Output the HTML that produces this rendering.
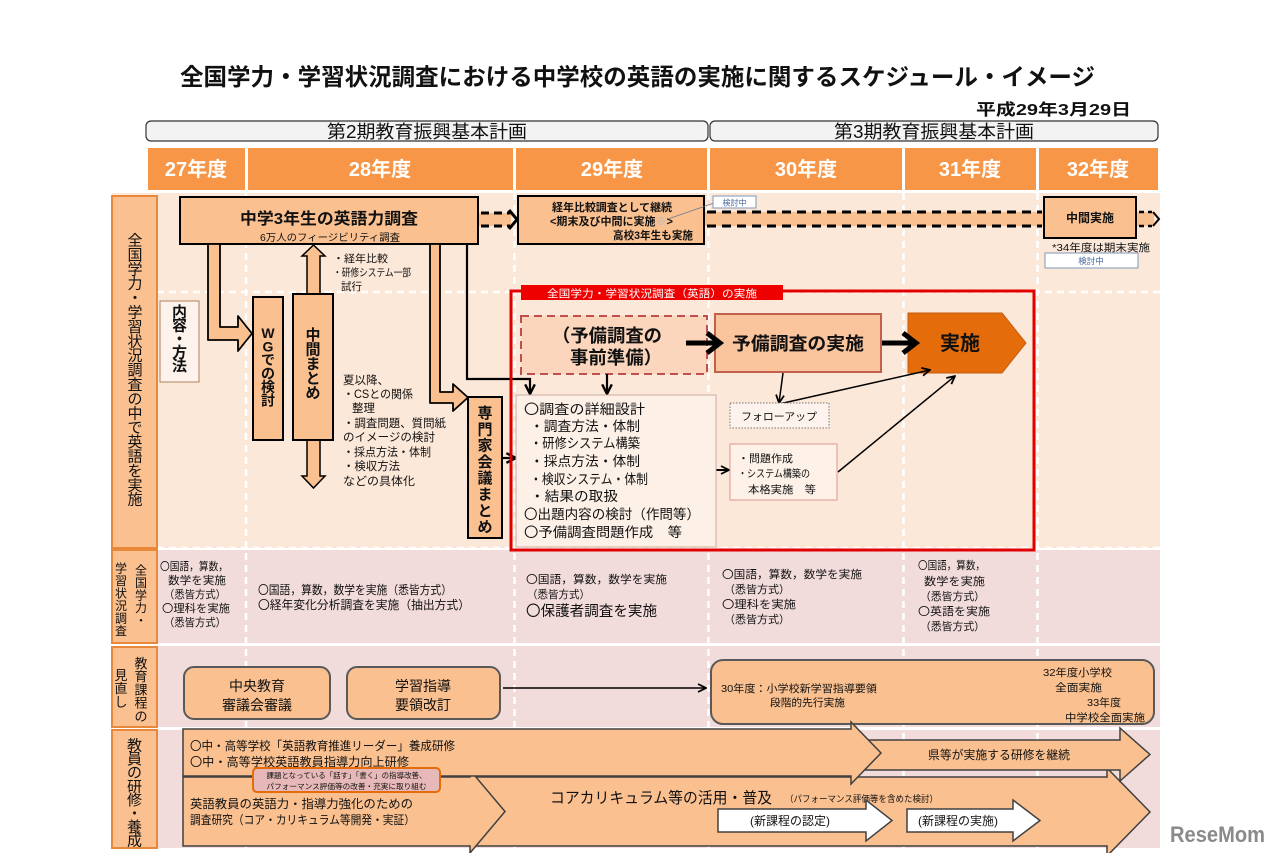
<!DOCTYPE html>
<html><head><meta charset="utf-8"><style>
html,body{margin:0;padding:0;background:#fff;}
svg{display:block;}
text{font-family:"Liberation Sans","Noto Sans CJK JP",sans-serif;fill:#111;}
</style></head><body>
<svg width="1280" height="853" viewBox="0 0 1280 853" xmlns="http://www.w3.org/2000/svg">
<defs>
<marker id="oa" viewBox="0 0 10 10" refX="9" refY="5" markerWidth="10" markerHeight="10" markerUnits="userSpaceOnUse" orient="auto"><path d="M1,1 L9,5 L1,9" fill="none" stroke="#000" stroke-width="1.8"/></marker>
<marker id="ob" viewBox="0 0 10 10" refX="9" refY="5" markerWidth="12" markerHeight="12" markerUnits="userSpaceOnUse" orient="auto"><path d="M1,1 L9,5 L1,9" fill="none" stroke="#000" stroke-width="2"/></marker>
</defs>

<!-- Title -->
<text x="180" y="85" font-size="23.5" font-weight="bold" textLength="915" lengthAdjust="spacingAndGlyphs">全国学力・学習状況調査における中学校の英語の実施に関するスケジュール・イメージ</text>
<text x="976" y="115" font-size="16" font-weight="bold" textLength="155" lengthAdjust="spacingAndGlyphs">平成29年3月29日</text>

<!-- Plan bars -->
<rect x="146" y="121" width="562" height="20" rx="5" fill="#f3f3f3" stroke="#333" stroke-width="1.2"/>
<text x="327" y="138" font-size="18" textLength="200" lengthAdjust="spacingAndGlyphs">第2期教育振興基本計画</text>
<rect x="710" y="121" width="448" height="20" rx="5" fill="#f3f3f3" stroke="#333" stroke-width="1.2"/>
<text x="834" y="138" font-size="18" textLength="200" lengthAdjust="spacingAndGlyphs">第3期教育振興基本計画</text>

<!-- Year header -->
<g fill="#F79646">
<rect x="148" y="148" width="97" height="42"/>
<rect x="248" y="148" width="265" height="42"/>
<rect x="516" y="148" width="191" height="42"/>
<rect x="710" y="148" width="192" height="42"/>
<rect x="905" y="148" width="131" height="42"/>
<rect x="1039" y="148" width="119" height="42"/>
</g>
<g font-size="20" font-weight="bold" text-anchor="middle">
<text x="196" y="176" style="fill:#fff">27年度</text>
<text x="380" y="176" style="fill:#fff">28年度</text>
<text x="612" y="176" style="fill:#fff">29年度</text>
<text x="806" y="176" style="fill:#fff">30年度</text>
<text x="970" y="176" style="fill:#fff">31年度</text>
<text x="1098" y="176" style="fill:#fff">32年度</text>
</g>

<!-- Row backgrounds -->
<rect x="112" y="193" width="1048" height="355" fill="#FCE8D9"/>
<rect x="112" y="550" width="1048" height="93" fill="#F2DCDB"/>
<rect x="112" y="646" width="1048" height="81" fill="#F2DCDB"/>
<rect x="112" y="730" width="1048" height="118" fill="#F2DCDB"/>

<!-- dashed grid -->
<g stroke="#fff" stroke-width="2.5" stroke-dasharray="7 5" fill="none">
<path d="M246,193 V848 M514.5,193 V848 M708.5,193 V848 M903.5,193 V848 M1037.5,193 V848"/>
<path d="M157,292 H1160"/>
<path d="M157,548 H1160"/>
</g>

<!-- Left labels -->
<g fill="#FAC090" stroke="#E8883A" stroke-width="2">
<rect x="112" y="196" width="45" height="352"/>
<rect x="112" y="550" width="45" height="93"/>
<rect x="112" y="647" width="45" height="80"/>
<rect x="112" y="730" width="45" height="118"/>
</g>
<text x="135" y="245.5" font-size="15" text-anchor="middle"><tspan x="135">全</tspan><tspan x="135" dy="14.4">国</tspan><tspan x="135" dy="14.4">学</tspan><tspan x="135" dy="14.4">力</tspan><tspan x="135" dy="14.4">・</tspan><tspan x="135" dy="14.4">学</tspan><tspan x="135" dy="14.4">習</tspan><tspan x="135" dy="14.4">状</tspan><tspan x="135" dy="14.4">況</tspan><tspan x="135" dy="14.4">調</tspan><tspan x="135" dy="14.4">査</tspan><tspan x="135" dy="14.4">の</tspan><tspan x="135" dy="14.4">中</tspan><tspan x="135" dy="14.4">で</tspan><tspan x="135" dy="14.4">英</tspan><tspan x="135" dy="14.4">語</tspan><tspan x="135" dy="14.4">を</tspan><tspan x="135" dy="14.4">実</tspan><tspan x="135" dy="14.4">施</tspan></text>
<text x="141" y="574.5" font-size="12" text-anchor="middle"><tspan x="141">全</tspan><tspan x="141" dy="12.5">国</tspan><tspan x="141" dy="12.5">学</tspan><tspan x="141" dy="12.5">力</tspan><tspan x="141" dy="12.5">・</tspan></text>
<text x="121" y="572.5" font-size="12" text-anchor="middle"><tspan x="121">学</tspan><tspan x="121" dy="12.5">習</tspan><tspan x="121" dy="12.5">状</tspan><tspan x="121" dy="12.5">況</tspan><tspan x="121" dy="12.5">調</tspan><tspan x="121" dy="12.5">査</tspan></text>
<text x="141" y="668" font-size="13" text-anchor="middle"><tspan x="141">教</tspan><tspan x="141" dy="13.2">育</tspan><tspan x="141" dy="13.2">課</tspan><tspan x="141" dy="13.2">程</tspan><tspan x="141" dy="13.2">の</tspan></text>
<text x="121" y="680" font-size="13" text-anchor="middle"><tspan x="121">見</tspan><tspan x="121" dy="13.2">直</tspan><tspan x="121" dy="13.2">し</tspan></text>
<text x="134.5" y="750.5" font-size="15" text-anchor="middle"><tspan x="134.5">教</tspan><tspan x="134.5" dy="13.6">員</tspan><tspan x="134.5" dy="13.6">の</tspan><tspan x="134.5" dy="13.6">研</tspan><tspan x="134.5" dy="13.6">修</tspan><tspan x="134.5" dy="13.6">・</tspan><tspan x="134.5" dy="13.6">養</tspan><tspan x="134.5" dy="13.6">成</tspan></text>

<!-- ===== Row 1 top ===== -->
<!-- connectors dashed -->
<rect x="478" y="213" width="33" height="13" fill="#FAC090"/>
<path d="M481,213 H510 M481,226 H510" stroke="#000" stroke-width="3" stroke-dasharray="8 5"/>
<path d="M509,210 L517,219.5 L509,229" stroke="#000" stroke-width="3" fill="none"/>
<rect x="704" y="212" width="340" height="14" fill="#FAC090"/>
<path d="M707,212 H1042 M707,226 H1042" stroke="#000" stroke-width="3" stroke-dasharray="9 6"/>
<rect x="1137" y="212" width="17" height="14" fill="#FAC090"/>
<path d="M1139,212 H1152 M1139,226 H1152" stroke="#000" stroke-width="2.5" stroke-dasharray="5 4"/>
<path d="M1153,212 L1159,219 L1153,226" stroke="#000" stroke-width="2" fill="none"/>

<rect x="180" y="197" width="298" height="47" fill="#FAC090" stroke="#000" stroke-width="2"/>
<text x="240" y="224" font-size="16" font-weight="bold" textLength="178" lengthAdjust="spacingAndGlyphs">中学3年生の英語力調査</text>
<text x="260" y="241" font-size="10" textLength="140" lengthAdjust="spacingAndGlyphs">6万人のフィージビリティ調査</text>

<rect x="518" y="196" width="186" height="48" fill="#FAC090" stroke="#000" stroke-width="2"/>
<text x="552" y="211" font-size="11" font-weight="bold" textLength="120" lengthAdjust="spacingAndGlyphs">経年比較調査として継続</text>
<text x="550" y="225" font-size="11" font-weight="bold" textLength="123" lengthAdjust="spacingAndGlyphs">&lt;期末及び中間に実施<tspan style="fill:#aab8d0">※</tspan>&gt;</text>
<text x="613" y="239" font-size="11" font-weight="bold" textLength="80" lengthAdjust="spacingAndGlyphs">高校3年生も実施</text>
<path d="M668,219 L714,203" stroke="#6a7a90" stroke-width="0.8"/>
<rect x="713" y="196" width="43" height="12" fill="#fff" stroke="#7f97b8" stroke-width="1"/>
<text x="734.5" y="205.5" font-size="8" text-anchor="middle" style="fill:#4a68a0">検討中</text>

<rect x="1044" y="197" width="92" height="41" fill="#FAC090" stroke="#000" stroke-width="2"/>
<text x="1090" y="222" font-size="12" font-weight="bold" text-anchor="middle">中間実施</text>
<text x="1052" y="251" font-size="10.5" textLength="98" lengthAdjust="spacingAndGlyphs">*34年度は期末実施</text>
<rect x="1045" y="253" width="93" height="15" fill="#fff" stroke="#7f97b8" stroke-width="1"/>
<text x="1091" y="264" font-size="8.5" text-anchor="middle" style="fill:#4a68a0">検討中</text>

<!-- hollow arrows -->
<polygon points="208,244 220,244 220,327 238,327 238,316 252,333.5 238,351 238,340 208,340" fill="#FAC090" stroke="#000" stroke-width="1.8" stroke-linejoin="round"/>
<polygon points="430,244 440,244 440,392 453,392 453,384 468,397.5 453,411 453,403 430,403" fill="#FAC090" stroke="#000" stroke-width="1.8" stroke-linejoin="round"/>
<polygon points="307,295 307,256 302,256 313.5,245 325,256 320,256 320,295" fill="#FAC090" stroke="#000" stroke-width="1.5"/>
<polygon points="307,440 307,476 302,476 313.5,488 325,476 320,476 320,440" fill="#FAC090" stroke="#000" stroke-width="1.5"/>

<!-- black line to list -->
<polyline points="467,244 467,379 530,379 530,394" fill="none" stroke="#000" stroke-width="2.2" marker-end="url(#ob)"/>

<!-- small text -->
<text x="333" y="262" font-size="10.5" textLength="55" lengthAdjust="spacingAndGlyphs">・経年比較</text>
<text x="333" y="276" font-size="10.5" textLength="78" lengthAdjust="spacingAndGlyphs">・研修システム一部</text>
<text x="341" y="290" font-size="10.5">試行</text>

<!-- 内容・方法 -->
<rect x="160" y="301" width="39" height="81" fill="#fdf3ec" stroke="#b08060" stroke-width="1"/>
<text x="179.5" y="317" font-size="15" font-weight="bold" text-anchor="middle"><tspan x="179.5">内</tspan><tspan x="179.5" dy="13.5">容</tspan><tspan x="179.5" dy="13.5">・</tspan><tspan x="179.5" dy="13.5">方</tspan><tspan x="179.5" dy="13.5">法</tspan></text>

<!-- WG -->
<rect x="253" y="297" width="30" height="143" fill="#FAC090" stroke="#000" stroke-width="2"/>
<text x="268" y="338" font-size="14" font-weight="bold" text-anchor="middle"><tspan x="268">W</tspan><tspan x="268" dy="13.5">G</tspan><tspan x="268" dy="13.5">で</tspan><tspan x="268" dy="13.5">の</tspan><tspan x="268" dy="13.5">検</tspan><tspan x="268" dy="13.5">討</tspan></text>
<!-- 中間まとめ -->
<rect x="293" y="294" width="40" height="146" fill="#FAC090" stroke="#000" stroke-width="2"/>
<text x="313" y="340" font-size="15" font-weight="bold" text-anchor="middle"><tspan x="313">中</tspan><tspan x="313" dy="14.5">間</tspan><tspan x="313" dy="14.5">ま</tspan><tspan x="313" dy="14.5">と</tspan><tspan x="313" dy="14.5">め</tspan></text>

<g font-size="11.5">
<text x="343" y="384">夏以降、</text>
<text x="343" y="398" textLength="70" lengthAdjust="spacingAndGlyphs">・CSとの関係</text>
<text x="352" y="412">整理</text>
<text x="343" y="427" textLength="103" lengthAdjust="spacingAndGlyphs">・調査問題、質問紙</text>
<text x="343" y="441" textLength="92" lengthAdjust="spacingAndGlyphs">のイメージの検討</text>
<text x="343" y="456" textLength="88" lengthAdjust="spacingAndGlyphs">・採点方法・体制</text>
<text x="343" y="470" textLength="57" lengthAdjust="spacingAndGlyphs">・検収方法</text>
<text x="343" y="485" textLength="72" lengthAdjust="spacingAndGlyphs">などの具体化</text>
</g>

<!-- 専門家会議まとめ -->
<rect x="468" y="397" width="34" height="141" fill="#FAC090" stroke="#000" stroke-width="2"/>
<text x="485" y="418" font-size="15" font-weight="bold" text-anchor="middle"><tspan x="485">専</tspan><tspan x="485" dy="16.3">門</tspan><tspan x="485" dy="16.3">家</tspan><tspan x="485" dy="16.3">会</tspan><tspan x="485" dy="16.3">議</tspan><tspan x="485" dy="16.3">ま</tspan><tspan x="485" dy="16.3">と</tspan><tspan x="485" dy="16.3">め</tspan></text>
<line x1="502" y1="458" x2="516" y2="458" stroke="#000" stroke-width="2.2" marker-end="url(#ob)"/>

<!-- ===== Red box ===== -->
<rect x="511" y="291" width="523" height="259" fill="none" stroke="#e00000" stroke-width="3"/>
<rect x="521" y="285" width="262" height="15" fill="#ee0000"/>
<text x="547" y="297" font-size="10.5" textLength="210" lengthAdjust="spacingAndGlyphs" style="fill:#fff">全国学力・学習状況調査（英語）の実施</text>

<rect x="521" y="316" width="186" height="58" fill="#FBD6BC" stroke="#c0504d" stroke-width="2" stroke-dasharray="8 5"/>
<text x="552" y="342" font-size="18" font-weight="bold" textLength="110" lengthAdjust="spacingAndGlyphs">（予備調査の</text>
<text x="570" y="364" font-size="18" font-weight="bold" textLength="92" lengthAdjust="spacingAndGlyphs">事前準備）</text>

<rect x="715" y="314" width="166" height="58" fill="#FAC49C" stroke="#c0604d" stroke-width="2"/>
<text x="732" y="350" font-size="18" font-weight="bold" textLength="132" lengthAdjust="spacingAndGlyphs">予備調査の実施</text>

<polygon points="908,313 1002,313 1026,343 1002,373 908,373" fill="#E46C0A" stroke="#c55a11" stroke-width="1"/>
<text x="960" y="350" font-size="20" font-weight="bold" text-anchor="middle">実施</text>

<!-- thick arrows -->
<path d="M686,343 H717" stroke="#000" stroke-width="5"/>
<path d="M707,333 L720,343 L707,353" stroke="#000" stroke-width="5" fill="none" stroke-linejoin="miter"/>
<path d="M882,343 H913" stroke="#000" stroke-width="5"/>
<path d="M903,333 L916,343 L903,353" stroke="#000" stroke-width="5" fill="none"/>

<!-- thin arrows -->
<line x1="607" y1="374" x2="607" y2="394" stroke="#000" stroke-width="2.2" marker-end="url(#ob)"/>
<line x1="783" y1="373" x2="779" y2="403" stroke="#000" stroke-width="1.5" marker-end="url(#oa)"/>
<line x1="779" y1="404" x2="930" y2="370" stroke="#000" stroke-width="1.5" marker-end="url(#oa)"/>
<line x1="838" y1="472" x2="955" y2="376" stroke="#000" stroke-width="1.5" marker-end="url(#oa)"/>
<line x1="707" y1="470" x2="729" y2="470" stroke="#000" stroke-width="2" marker-end="url(#oa)"/>

<rect x="730" y="403" width="99" height="25" fill="#fdf3ec" stroke="#777" stroke-width="1" stroke-dasharray="1.5 1.5"/>
<text x="741" y="420" font-size="10.5" textLength="76" lengthAdjust="spacingAndGlyphs">フォローアップ</text>

<rect x="730" y="444" width="107" height="56" fill="#fdf1e8" stroke="#d99694" stroke-width="1"/>
<text x="738" y="462" font-size="10.5" textLength="55" lengthAdjust="spacingAndGlyphs">・問題作成</text>
<text x="738" y="477" font-size="10.5" textLength="72" lengthAdjust="spacingAndGlyphs">・システム構築の</text>
<text x="748" y="493" font-size="10.5" textLength="68" lengthAdjust="spacingAndGlyphs">本格実施　等</text>

<rect x="516" y="395" width="200" height="152" fill="#fdf0e7" stroke="#cfaaa2" stroke-width="1"/>
<g font-size="13.5">
<text x="524" y="414" textLength="121" lengthAdjust="spacingAndGlyphs">〇調査の詳細設計</text>
<text x="530" y="431" textLength="110" lengthAdjust="spacingAndGlyphs">・調査方法・体制</text>
<text x="530" y="448" textLength="110" lengthAdjust="spacingAndGlyphs">・研修システム構築</text>
<text x="530" y="466" textLength="110" lengthAdjust="spacingAndGlyphs">・採点方法・体制</text>
<text x="530" y="484" textLength="118" lengthAdjust="spacingAndGlyphs">・検収システム・体制</text>
<text x="530" y="501" textLength="88" lengthAdjust="spacingAndGlyphs">・結果の取扱</text>
<text x="524" y="519" textLength="176" lengthAdjust="spacingAndGlyphs">〇出題内容の検討（作問等）</text>
<text x="524" y="537" textLength="158" lengthAdjust="spacingAndGlyphs">〇予備調査問題作成　等</text>
</g>

<!-- ===== Row 2 ===== -->
<g font-size="11">
<text x="160" y="570" textLength="68" lengthAdjust="spacingAndGlyphs">〇国語，算数，</text>
<text x="168" y="584" textLength="58" lengthAdjust="spacingAndGlyphs">数学を実施</text>
<text x="164" y="598" textLength="62" lengthAdjust="spacingAndGlyphs">（悉皆方式）</text>
<text x="162" y="612" textLength="68" lengthAdjust="spacingAndGlyphs">〇理科を実施</text>
<text x="164" y="626" textLength="62" lengthAdjust="spacingAndGlyphs">（悉皆方式）</text>

<text x="258" y="594" font-size="12" textLength="194" lengthAdjust="spacingAndGlyphs">〇国語，算数，数学を実施（悉皆方式）</text>
<text x="258" y="609" font-size="12" textLength="212" lengthAdjust="spacingAndGlyphs">〇経年変化分析調査を実施（抽出方式）</text>

<text x="526" y="583" textLength="141" lengthAdjust="spacingAndGlyphs">〇国語，算数，数学を実施</text>
<text x="527" y="598" textLength="63" lengthAdjust="spacingAndGlyphs">（悉皆方式）</text>
<text x="526" y="616" font-size="14.5" textLength="131" lengthAdjust="spacingAndGlyphs">〇保護者調査を実施</text>

<text x="722" y="578" textLength="140" lengthAdjust="spacingAndGlyphs">〇国語，算数，数学を実施</text>
<text x="724" y="593" textLength="66" lengthAdjust="spacingAndGlyphs">（悉皆方式）</text>
<text x="722" y="608" textLength="74" lengthAdjust="spacingAndGlyphs">〇理科を実施</text>
<text x="724" y="623" textLength="66" lengthAdjust="spacingAndGlyphs">（悉皆方式）</text>

<text x="918" y="569" textLength="67" lengthAdjust="spacingAndGlyphs">〇国語，算数，</text>
<text x="924" y="585" textLength="61" lengthAdjust="spacingAndGlyphs">数学を実施</text>
<text x="920" y="600" textLength="65" lengthAdjust="spacingAndGlyphs">（悉皆方式）</text>
<text x="918" y="615" textLength="72" lengthAdjust="spacingAndGlyphs">〇英語を実施</text>
<text x="920" y="630" textLength="65" lengthAdjust="spacingAndGlyphs">（悉皆方式）</text>
</g>

<!-- ===== Row 3 ===== -->
<rect x="184" y="667" width="146" height="52" rx="10" fill="#FAC090" stroke="#595959" stroke-width="2"/>
<text x="257" y="691" font-size="14" text-anchor="middle">中央教育</text>
<text x="257" y="710" font-size="14" text-anchor="middle">審議会審議</text>
<rect x="347" y="667" width="153" height="52" rx="10" fill="#FAC090" stroke="#595959" stroke-width="2"/>
<text x="423" y="691" font-size="14" text-anchor="middle">学習指導</text>
<text x="423" y="710" font-size="14" text-anchor="middle">要領改訂</text>
<line x1="503" y1="688" x2="706" y2="688" stroke="#000" stroke-width="1.5" marker-end="url(#oa)"/>
<rect x="711" y="660" width="443" height="64" rx="12" fill="#FAC090" stroke="#595959" stroke-width="2"/>
<g font-size="10.5">
<text x="721" y="692" textLength="156" lengthAdjust="spacingAndGlyphs">30年度：小学校新学習指導要領</text>
<text x="770" y="706" textLength="75" lengthAdjust="spacingAndGlyphs">段階的先行実施</text>
<text x="1043" y="676" textLength="69" lengthAdjust="spacingAndGlyphs">32年度小学校</text>
<text x="1055" y="691" textLength="47" lengthAdjust="spacingAndGlyphs">全面実施</text>
<text x="1087" y="706" textLength="34" lengthAdjust="spacingAndGlyphs">33年度</text>
<text x="1065" y="721" textLength="80" lengthAdjust="spacingAndGlyphs">中学校全面実施</text>
</g>

<!-- ===== Row 4 ===== -->
<!-- D big arrow -->
<polygon points="470,777 1107,777 1107,768 1150,812 1107,856 1107,846 470,846" fill="#FAC090" stroke="#404040" stroke-width="1.5"/>
<!-- B arrow -->
<polygon points="860,740 1120,740 1120,728 1150,754.5 1120,781 1120,770 860,770" fill="#FAC090" stroke="#404040" stroke-width="1.5"/>
<!-- C arrow -->
<polygon points="183,777 470,777 470,770 505,811.5 470,853 470,846 183,846" fill="#FAC090" stroke="#404040" stroke-width="1.5"/>
<!-- A arrow -->
<polygon points="183,729 851,729 851,722 881,753 851,784 851,776 183,776" fill="#FAC090" stroke="#404040" stroke-width="1.5"/>

<text x="190" y="750" font-size="12" textLength="265" lengthAdjust="spacingAndGlyphs">〇中・高等学校「英語教育推進リーダー」養成研修</text>
<text x="190" y="766" font-size="12" textLength="219" lengthAdjust="spacingAndGlyphs">〇中・高等学校英語教員指導力向上研修</text>
<text x="928" y="759" font-size="12" textLength="142" lengthAdjust="spacingAndGlyphs">県等が実施する研修を継続</text>

<rect x="253" y="768" width="187" height="24" rx="4" fill="#E6B9B8" stroke="#E46C0A" stroke-width="2"/>
<text x="346.5" y="778" font-size="7.5" text-anchor="middle" textLength="160" lengthAdjust="spacingAndGlyphs">課題となっている「話す」「書く」の指導改善、</text>
<text x="346.5" y="789" font-size="7.5" text-anchor="middle" textLength="160" lengthAdjust="spacingAndGlyphs">パフォーマンス評価等の改善・充実に取り組む</text>

<text x="190" y="808" font-size="12" textLength="223" lengthAdjust="spacingAndGlyphs">英語教員の英語力・指導力強化のための</text>
<text x="190" y="824" font-size="12" textLength="225" lengthAdjust="spacingAndGlyphs">調査研究（コア・カリキュラム等開発・実証）</text>

<text x="550" y="803" font-size="15.5" textLength="222" lengthAdjust="spacingAndGlyphs">コアカリキュラム等の活用・普及</text>
<text x="785" y="802" font-size="9" textLength="153" lengthAdjust="spacingAndGlyphs">（パフォーマンス評価等を含めた検討）</text>

<polygon points="718,809 866,809 866,800 892,820.5 866,841 866,832 718,832" fill="#fff" stroke="#404040" stroke-width="1.5"/>
<text x="790" y="825" font-size="12" text-anchor="middle">(新課程の認定)</text>
<polygon points="907,809 1013,809 1013,800 1040,820.5 1013,841 1013,832 907,832" fill="#fff" stroke="#404040" stroke-width="1.5"/>
<text x="958" y="825" font-size="12" text-anchor="middle">(新課程の実施)</text>

<!-- Logo -->
<text x="1170" y="842" font-size="22" font-weight="bold" textLength="95" lengthAdjust="spacingAndGlyphs" style="fill:#8a8a8a">ReseMom</text>
</svg>
</body></html>
